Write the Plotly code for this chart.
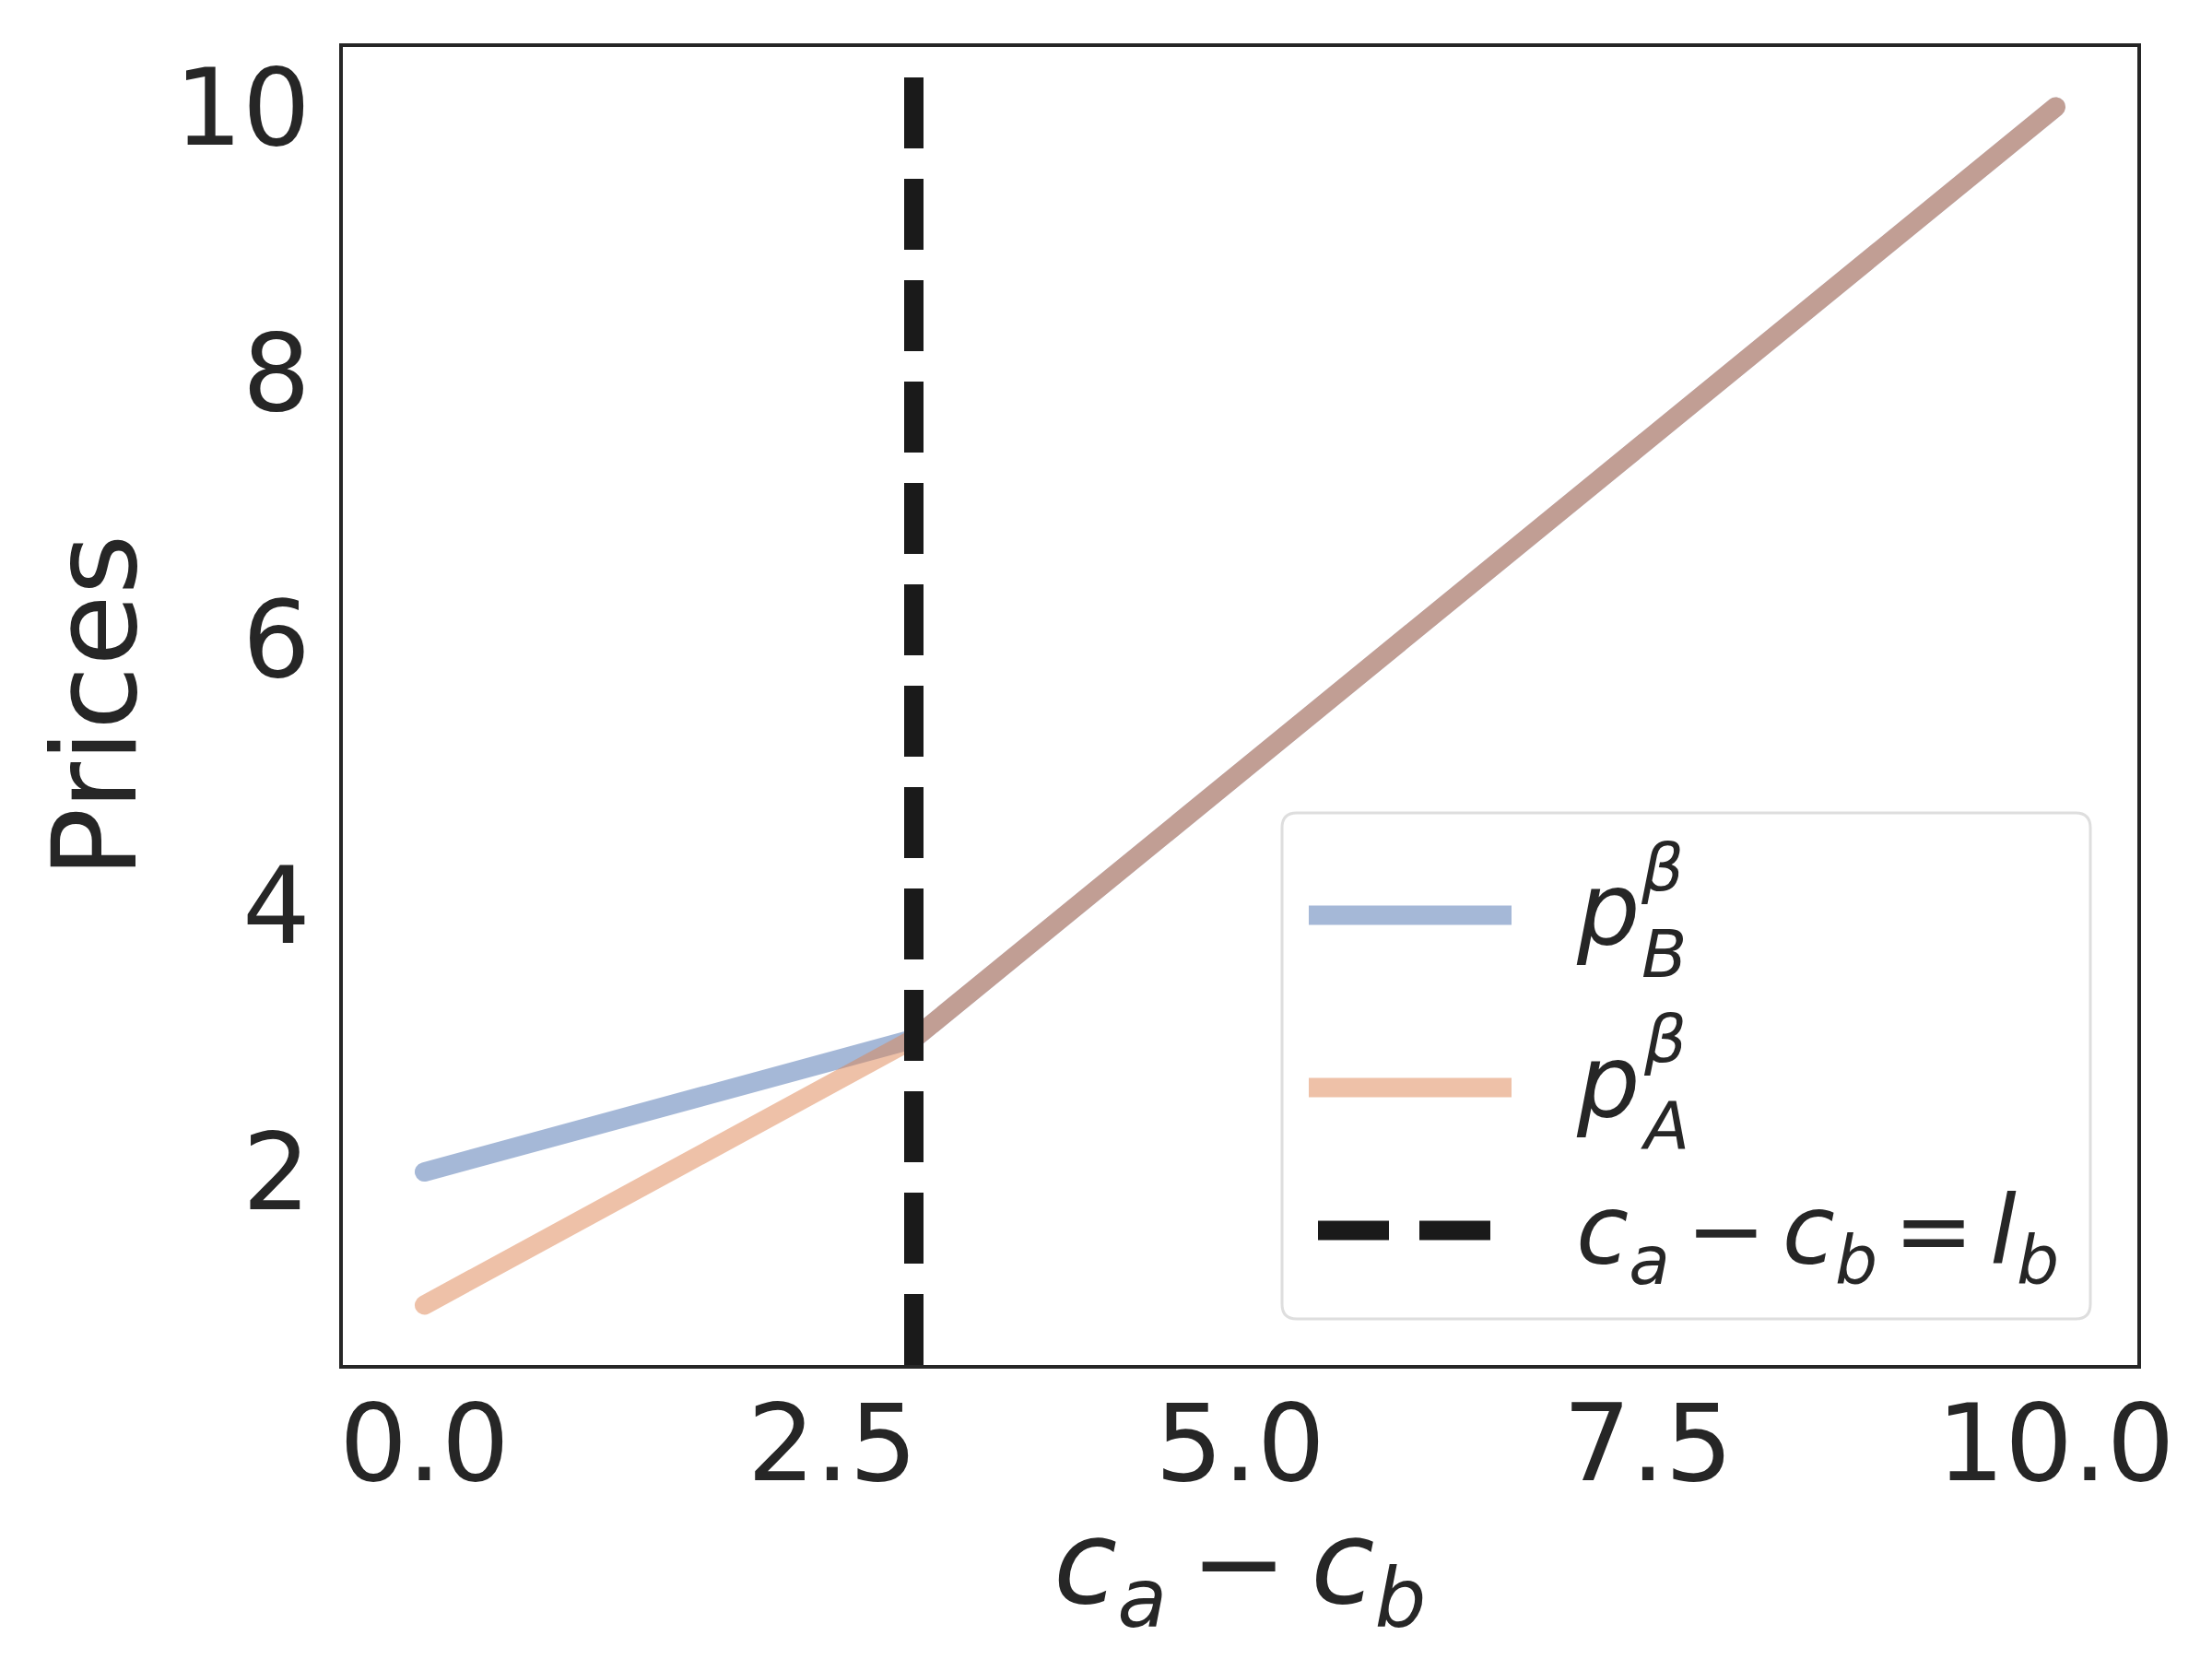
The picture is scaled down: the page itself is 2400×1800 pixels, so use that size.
import plotly.graph_objects as go

# values
cost_gap = [0.0, 3.0, 10.0]      # c_a - c_b
price_b = [2.0, 3.0, 10.0]       # p_B^beta
price_a = [1.0, 3.0, 10.0]       # p_A^beta
l_b = 3.0                        # c_a - c_b = l_b

x_ticks = [0.0, 2.5, 5.0, 7.5, 10.0]
x_ticktext = ["0.0", "2.5", "5.0", "7.5", "10.0"]
y_ticks = [2, 4, 6, 8, 10]

TS = "\u2009"  # thin space, mathtext keeps operators tight
SS = "\u2006"  # even thinner for the legend
x_title = f"<i>c</i><sub><i>a</i></sub>{TS}−{TS}<i>c</i><sub><i>b</i></sub>"
y_title = "Prices"
legend_main = ["<i>p</i>", "<i>p</i>",
               f"<i>c</i><sub><i>a</i></sub>{SS}−{SS}<i>c</i><sub><i>b</i></sub>{SS}={SS}<i>l</i><sub><i>b</i></sub>"]
legend_size = [108, 108, 104]
legend_stack = ["<i>β</i><br><i>B</i>", "<i>β</i><br><i>A</i>", None]

W, H = 2400, 1800
L, R, T, B = 364, 89, 43, 327

BLUE = "rgba(76,114,176,0.5)"
ORANGE = "rgba(221,132,82,0.5)"
DARK = "#262626"
BLACK = "#1a1a1a"
FONT = "DejaVu Sans"
LW = 21
DASH = "77px,33px"


def px(xp):
    return (xp - L) / (W - L - R)


def py(yp):
    return (H - B - yp) / (H - T - B)


def rounded_box(x0, y0, x1, y1, r):
    pts = [
        ("M", x0 + r, y0), ("L", x1 - r, y0), ("Q", x1, y0, x1, y0 + r),
        ("L", x1, y1 - r), ("Q", x1, y1, x1 - r, y1), ("L", x0 + r, y1),
        ("Q", x0, y1, x0, y1 - r), ("L", x0, y0 + r), ("Q", x0, y0, x0 + r, y0),
    ]
    out = []
    for p in pts:
        cmd, vals = p[0], p[1:]
        coords = []
        for i in range(0, len(vals), 2):
            coords.append(f"{px(vals[i]):.5f},{py(vals[i + 1]):.5f}")
        out.append(cmd + " ".join(coords))
    return " ".join(out) + " Z"


fig = go.Figure()
fig.add_trace(go.Scatter(x=cost_gap, y=price_b, mode="lines",
                         line=dict(color=BLUE, width=LW), showlegend=False))
fig.add_trace(go.Scatter(x=cost_gap, y=price_a, mode="lines",
                         line=dict(color=ORANGE, width=LW), showlegend=False))

# vertical threshold line, dashes start from the bottom like axvline
fig.add_shape(type="line", xref="x", yref="paper", x0=l_b, x1=l_b, y0=0, y1=1,
              line=dict(color=BLACK, width=LW, dash=DASH))

# hand made legend (plotly legend samples are too short)
fig.add_shape(type="path", xref="paper", yref="paper",
              path=rounded_box(1383, 874, 2260, 1423, 16),
              fillcolor="white", line=dict(color="#dedede", width=3))
sample_y = [985, 1172, 1327]
sample_col = [BLUE, ORANGE, BLACK]
sample_dash = ["solid", "solid", DASH]
sample_x = [(1412, 1632), (1412, 1632), (1422, 1622)]
for yy, col, dsh, (xa, xb) in zip(sample_y, sample_col, sample_dash, sample_x):
    fig.add_shape(type="line", xref="paper", yref="paper",
                  x0=px(xa), x1=px(xb), y0=py(yy), y1=py(yy),
                  line=dict(color=col, width=LW, dash=dsh))

main_y = [979, 1166, 1334]
stack_y = [980, 1166, None]
for lab, fs, stk, yy, ys in zip(legend_main, legend_size, legend_stack, main_y, stack_y):
    fig.add_annotation(x=px(1700), y=py(yy), xref="paper", yref="paper",
                       xanchor="left", yanchor="middle", showarrow=False,
                       text=lab, font=dict(family=FONT, size=fs, color=DARK))
    if stk:
        fig.add_annotation(x=px(1770), y=py(ys), xref="paper", yref="paper",
                           xanchor="left", yanchor="middle", align="left",
                           showarrow=False, text=stk,
                           font=dict(family=FONT, size=72, color=DARK))

# x axis label as an annotation so it sits where matplotlib put it
fig.add_annotation(x=0.5, y=py(1612), xref="paper", yref="paper",
                   xanchor="center", yanchor="top", showarrow=False,
                   text=x_title, font=dict(family=FONT, size=126, color=DARK))

fig.update_layout(
    width=W, height=H,
    margin=dict(l=L, r=R, t=T, b=B, autoexpand=False),
    paper_bgcolor="white", plot_bgcolor="white",
    font=dict(family=FONT, color=DARK),
)
fig.update_xaxes(
    range=[-0.5, 10.5], tickvals=x_ticks, ticktext=x_ticktext,
    showgrid=False, zeroline=False, showline=True, mirror=True,
    linecolor=DARK, linewidth=4, ticks="",
    tickfont=dict(family=FONT, size=116, color=DARK), ticklabelstandoff=-18,
)
fig.update_yaxes(
    range=[0.55, 10.45], tickvals=y_ticks,
    showgrid=False, zeroline=False, showline=True, mirror=True,
    linecolor=DARK, linewidth=4, ticks="",
    tickfont=dict(family=FONT, size=116, color=DARK), ticklabelstandoff=8,
    title=dict(text=y_title, font=dict(family=FONT, size=126, color=DARK),
               standoff=0),
)

# matplotlib draws the solid price lines with round ends
round_caps = ("document.querySelectorAll('.scatterlayer .js-line')"
              ".forEach(function(p){p.style.strokeLinecap='round';});")
fig.write_html("out.html", post_script=round_caps)
